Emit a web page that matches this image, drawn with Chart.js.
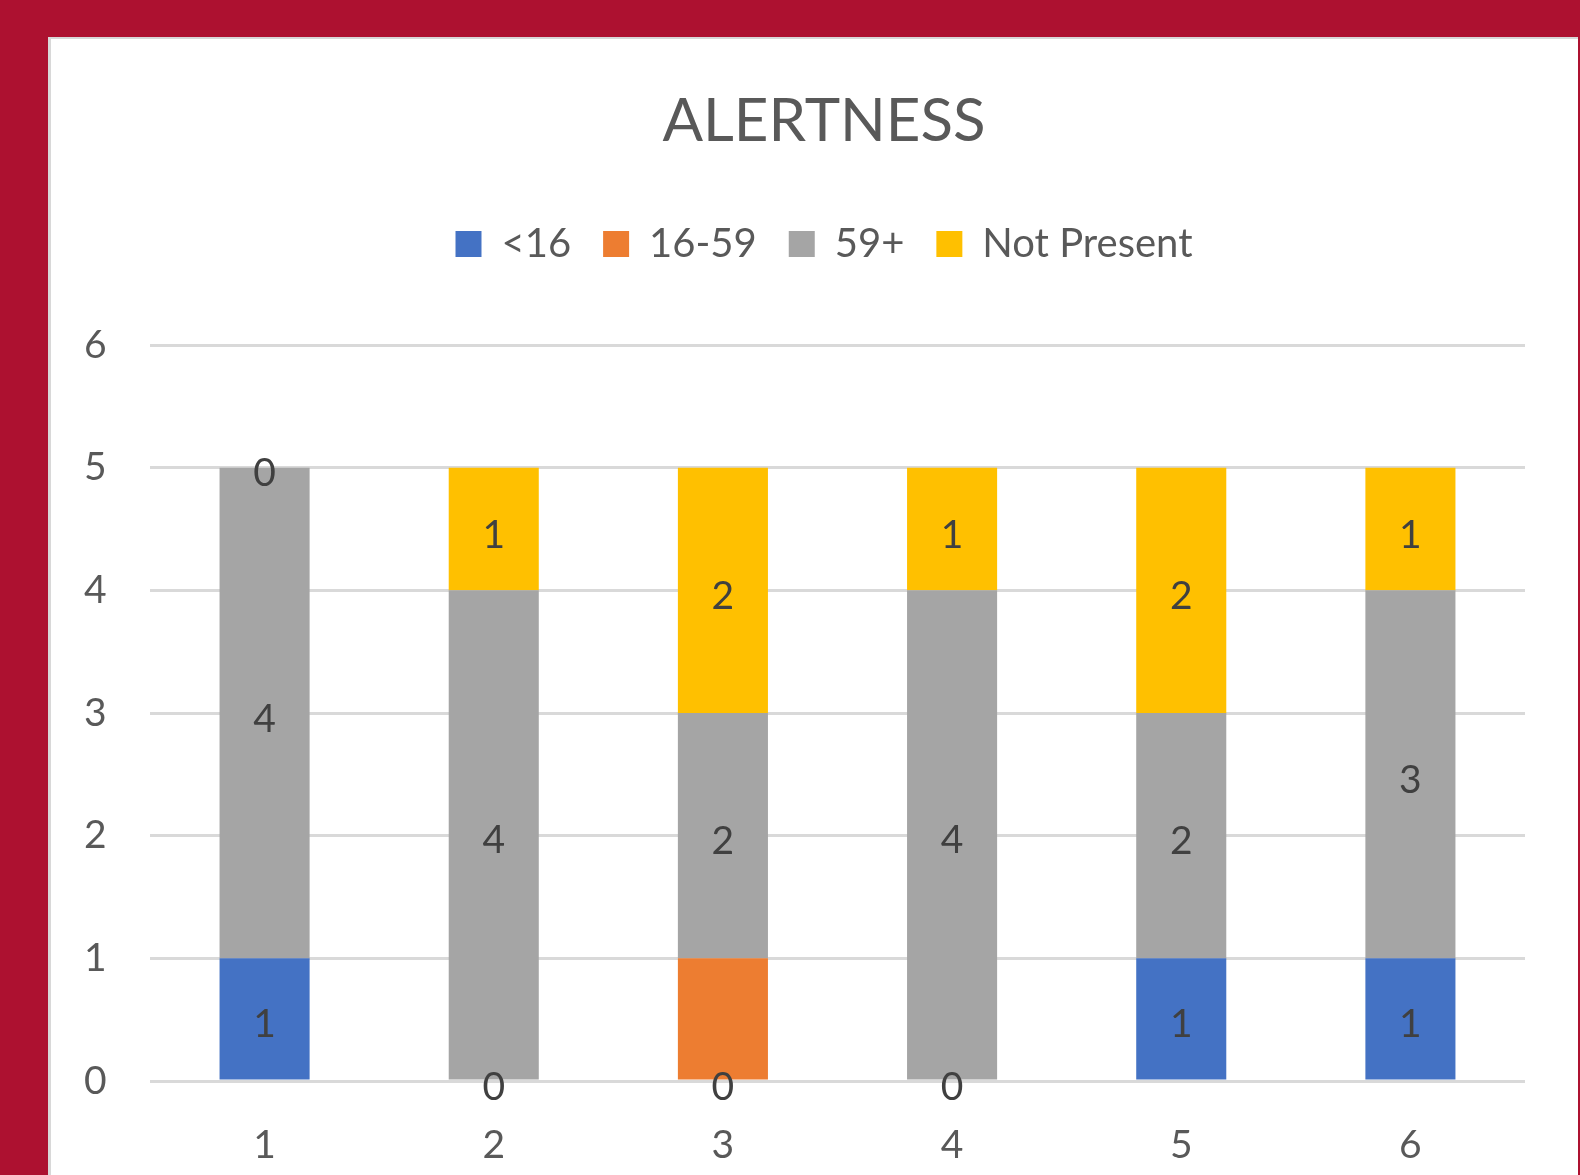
<!DOCTYPE html>
<html>
<head>
<meta charset="utf-8">
<script src="https://cdn.jsdelivr.net/npm/chart.js@4/dist/chart.umd.min.js"></script>
<style>
  html, body { margin: 0; padding: 0; }
  body { width: 1580px; height: 1175px; background: #ad1130; position: relative; overflow: hidden; }
  #panel {
    position: absolute; left: 48px; top: 37px; width: 1530px; height: 1138px;
    box-sizing: border-box; background: #fff;
    border-left: 3px solid #d8d8d8; border-top: 2px solid #d8d8d8;
  }
  canvas { display: block; }
</style>
</head>
<body>
<div id="panel"><canvas id="chart" width="1527" height="1136"></canvas></div>
<script>
const categories = ['1', '2', '3', '4', '5', '6'];
const seriesNames = ['<16', '16-59', '59+', 'Not Present'];
const under16 = [1, 0, 0, 0, 1, 1];
const age16to59 = [0, 0, 1, 0, 0, 0];
const over59 = [4, 4, 2, 4, 2, 3];
const notPresent = [0, 1, 2, 1, 2, 1];
const seriesColors = ['#4472c4', '#ed7d31', '#a5a5a5', '#ffc000'];
const labelledSeries = [true, false, true, true];
const yTicks = [0, 1, 2, 3, 4, 5, 6];

const FONT = 'Lato';
const TEXT = '#595959';

// Excel-style value labels in the middle of each segment
const valueLabels = {
  id: 'valueLabels',
  afterDatasetsDraw(chart) {
    const ctx = chart.ctx;
    ctx.save();
    ctx.font = '39px ' + FONT;
    ctx.fillStyle = '#404040';
    ctx.textAlign = 'center';
    ctx.textBaseline = 'middle';
    chart.data.datasets.forEach((ds, i) => {
      if (!labelledSeries[i]) return;
      chart.getDatasetMeta(i).data.forEach((bar, j) => {
        ctx.fillText(String(ds.data[j]), bar.x, (bar.y + bar.base) / 2 + 6);
      });
    });
    ctx.restore();
  }
};

const seriesData = [under16, age16to59, over59, notPresent];

new Chart(document.getElementById('chart'), {
  type: 'bar',
  data: {
    labels: categories,
    datasets: seriesData.map((d, i) => ({
      label: seriesNames[i],
      data: d,
      backgroundColor: seriesColors[i],
      borderWidth: 0,
      categoryPercentage: 1,
      barPercentage: 0.393
    }))
  },
  options: {
    responsive: false,
    animation: false,
    events: [],
    layout: { padding: { left: 72, right: 53, top: 0, bottom: 0 } },
    plugins: {
      title: {
        display: true,
        text: 'ALERTNESS',
        color: TEXT,
        font: { family: FONT, size: 60, weight: 'normal' },
        padding: { top: 47, bottom: 34 }
      },
      legend: {
        display: true,
        position: 'top',
        labels: {
          color: TEXT,
          font: { family: FONT, size: 40 },
          boxWidth: 26,
          boxHeight: 26,
          padding: 32
        }
      },
      tooltip: { enabled: false }
    },
    scales: {
      x: {
        stacked: true,
        grid: { display: false },
        border: { display: false },
        ticks: { color: TEXT, font: { family: FONT, size: 39 }, padding: 33 },
        afterFit(s) { s.height = 94; }
      },
      spacer: {
        type: 'category',
        position: 'top',
        grid: { display: false },
        border: { display: false },
        ticks: { display: false },
        afterFit(s) { s.height = 71; }
      },
      y: {
        stacked: true,
        min: 0,
        max: 6,
        afterBuildTicks(s) { s.ticks = yTicks.map(v => ({ value: v })); },
        grid: { color: '#d9d9d9', lineWidth: 3, drawTicks: false },
        border: { display: false },
        ticks: { color: TEXT, font: { family: FONT, size: 39 }, mirror: true, padding: -66 },
        afterFit(s) { s.width = 27; }
      }
    }
  },
  plugins: [valueLabels]
});
</script>
</body>
</html>
